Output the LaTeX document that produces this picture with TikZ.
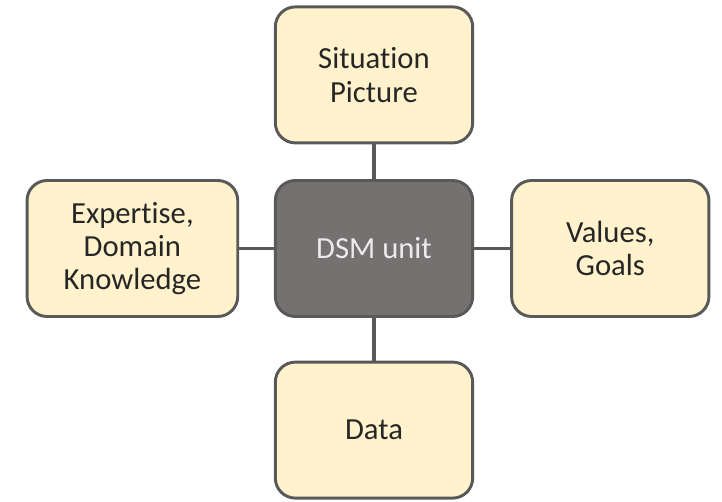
\documentclass[tikz,border=0pt]{standalone}
\usepackage{fontspec}
\setmainfont{Carlito}[Ligatures={NoCommon}]
\usepackage{xcolor}
\usetikzlibrary{positioning}

\definecolor{boxfill}{HTML}{FFF2CC}
\definecolor{boxline}{HTML}{595959}
\definecolor{unitfill}{HTML}{767171}
\definecolor{textdark}{HTML}{262626}

\begin{document}
\begin{tikzpicture}[x=0.75pt,y=-0.75pt,
    box/.style={rectangle,rounded corners=15pt,line width=2.2pt,draw=boxline,fill=boxfill,
        text=textdark,align=center,minimum width=148pt,minimum height=102pt,
        font=\fontsize{23pt}{25pt}\selectfont},
    unit/.style={box,fill=unitfill,text=white!92!black},
    link/.style={line width=2.4pt,draw=boxline}]
    \useasboundingbox (0,0) rectangle (722,502);

    % centre unit
    \node[unit] (dsm) at (374,248.5) {DSM unit};

    % surrounding boxes
    \node[box] (situation) [above=26pt of dsm] {Situation\\Picture};
    \node[box] (data) [below=32pt of dsm] {Data};
    \node[box,minimum width=158pt] (expertise) [left=26pt of dsm] {Expertise,\\Domain\\Knowledge};
    \node[box] (values) [right=27pt of dsm] {Values,\\Goals};

    % links to the centre
    \draw[link] (situation) -- (dsm);
    \draw[link] (data) -- (dsm);
    \draw[link] (expertise) -- (dsm);
    \draw[link] (values) -- (dsm);
\end{tikzpicture}
\end{document}
